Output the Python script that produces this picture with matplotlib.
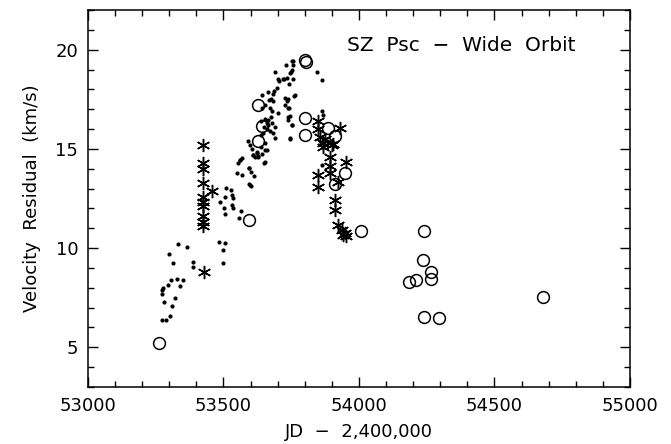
import matplotlib
matplotlib.use("Agg")
import matplotlib.pyplot as plt
from matplotlib.ticker import MultipleLocator

# small dots
dot_jd = [53272, 53288, 53303, 53310, 53321, 53282, 53272, 53274, 53276, 53294,
          53305, 53330, 53351, 53339, 53298, 53314, 53331, 53365, 53387, 53387,
          53485, 53504, 53499, 53497,
          53508, 53526, 53532, 53536, 53506, 53487, 53502, 53531, 53534, 53504,
          53565, 53556, 53593, 53600,
          53561, 53555, 53549, 53567, 53594, 53601, 53613, 53597, 53651, 53622,
          53616, 53628, 53608, 53641, 53659,
          53752, 53729, 53758, 53752, 53690, 53745, 53736, 53723, 53758, 53742,
          53705, 53696, 53688, 53684, 53663, 53643, 53668, 53684, 53653, 53641,
          53672, 53678, 53727, 53733, 53739, 53727, 53737, 53764, 53745, 53737,
          53752, 53745, 53665, 53659, 53647, 53638, 53684, 53690, 53653, 53638,
          53622, 53610, 53628, 53653, 53653, 53592, 53598, 53604, 53567, 53561,
          53595, 53847, 53862, 53862, 53866, 53864, 53745, 53752, 53737,
          53655, 53665, 53660, 53670, 53650, 53640, 53675, 53680, 53690, 53700,
          53755, 53748, 53718, 53702, 53677, 53760, 53743]
dot_vel = [6.4, 6.4, 6.6, 7.1, 7.5, 7.3, 7.7, 7.9, 8.0, 8.15,
           8.4, 8.45, 8.4, 8.1, 9.7, 9.25, 10.2, 10.05, 9.3, 9.05,
           10.3, 10.25, 9.9, 9.25,
           13.05, 12.95, 12.7, 12.5, 12.6, 12.3, 12.0, 12.15, 12.0, 11.7,
           11.85, 11.5, 13.25, 13.15,
           14.45, 14.3, 13.8, 13.7, 14.05, 13.85, 13.65, 13.2, 14.3, 14.8,
           14.6, 14.65, 14.7, 14.75, 14.95,
           19.45, 19.25, 19.25, 19.0, 18.85, 18.8, 18.55, 18.5, 18.5, 18.25,
           18.4, 18.05, 17.9, 17.75, 17.85, 17.7, 17.45, 17.4, 17.2, 17.05,
           17.05, 16.9, 17.55, 17.4, 17.5, 17.2, 17.05, 17.7, 16.65, 16.45,
           16.2, 15.5, 16.45, 16.3, 15.8, 15.7, 15.8, 15.55, 15.3, 15.1,
           14.85, 14.7, 14.6, 14.95, 14.35, 15.4, 15.2, 15.0, 14.55, 14.45,
           14.05, 18.9, 18.45, 16.9, 16.7, 14.2, 15.55, 16.2, 16.6,
           16.5, 16.2, 16.0, 15.9, 16.1, 16.4, 16.6, 16.3, 16.1, 16.8,
           19.45, 18.9, 18.5, 18.5, 17.5, 17.65, 17.05]

# asterisks
star_jd = [53425, 53425, 53425, 53425, 53425, 53425, 53425, 53425, 53425, 53425,
           53428, 53456,
           53850, 53850, 53856, 53850, 53850, 53866, 53875, 53868, 53899, 53893,
           53893, 53893, 53930, 53951, 53921, 53911, 53911, 53924, 53936, 53948,
           53942, 53952, 53903]
star_vel = [15.2, 14.3, 14.0, 13.3, 12.6, 12.3, 12.1, 11.6, 11.3, 11.1,
            8.8, 12.9,
            16.4, 16.0, 15.6, 13.7, 13.1, 15.3, 15.5, 15.1, 15.2, 14.6,
            14.15, 13.8, 16.05, 14.35, 13.35, 12.4, 11.9, 11.15, 10.9, 10.75,
            10.65, 10.6, 15.25]

# open circles
circ_jd = [53262, 53593, 53626, 53643, 53628, 53801, 53803, 53801, 53801, 53887,
           53911, 53948, 53911, 54007, 54240, 54237, 54266, 54266, 54184, 54210,
           54240, 54296, 54680]
circ_vel = [5.2, 11.4, 17.2, 16.15, 15.4, 19.5, 19.4, 16.55, 15.7, 16.05,
            15.65, 13.8, 13.25, 10.85, 10.85, 9.4, 8.8, 8.45, 8.3, 8.38,
            6.55, 6.5, 7.55]

plt.rcParams['font.family'] = ['DejaVu Sans']

fig = plt.figure(figsize=(6.71, 4.44), dpi=100)
ax = fig.add_axes([0.1311, 0.1284, 0.8077, 0.8491])

ax.plot(dot_jd, dot_vel, linestyle='none', marker='o', markersize=3.0,
        color='black', markeredgewidth=0)
ax.plot(star_jd, star_vel, linestyle='none', marker=(6, 2, 0), markersize=9.5,
        color='black', markeredgewidth=1.05)
ax.plot(circ_jd, circ_vel, linestyle='none', marker='o', markersize=8.5,
        markerfacecolor='none', markeredgecolor='black', markeredgewidth=1.1)

ax.set_xlim(53000, 55000)
ax.set_ylim(3, 22)
ax.xaxis.set_major_locator(MultipleLocator(500))
ax.xaxis.set_minor_locator(MultipleLocator(100))
ax.yaxis.set_major_locator(MultipleLocator(5))
ax.yaxis.set_minor_locator(MultipleLocator(1))
ax.tick_params(which='both', direction='in', top=True, right=True,
               width=1.0, labelsize=13, pad=7)
ax.tick_params(which='major', length=7.5)
ax.tick_params(which='minor', length=4)
for s in ax.spines.values():
    s.set_linewidth(1.1)

ax.set_xlabel('JD  \u2212  2,400,000', fontsize=13, labelpad=6)
ax.set_ylabel('Velocity  Residual  (km/s)', fontsize=13, labelpad=10)
ax.text(0.478, 0.905, 'SZ  Psc  \u2212  Wide  Orbit', transform=ax.transAxes,
        ha='left', va='center', fontsize=14.5)

fig.savefig('out.png', dpi=100)
